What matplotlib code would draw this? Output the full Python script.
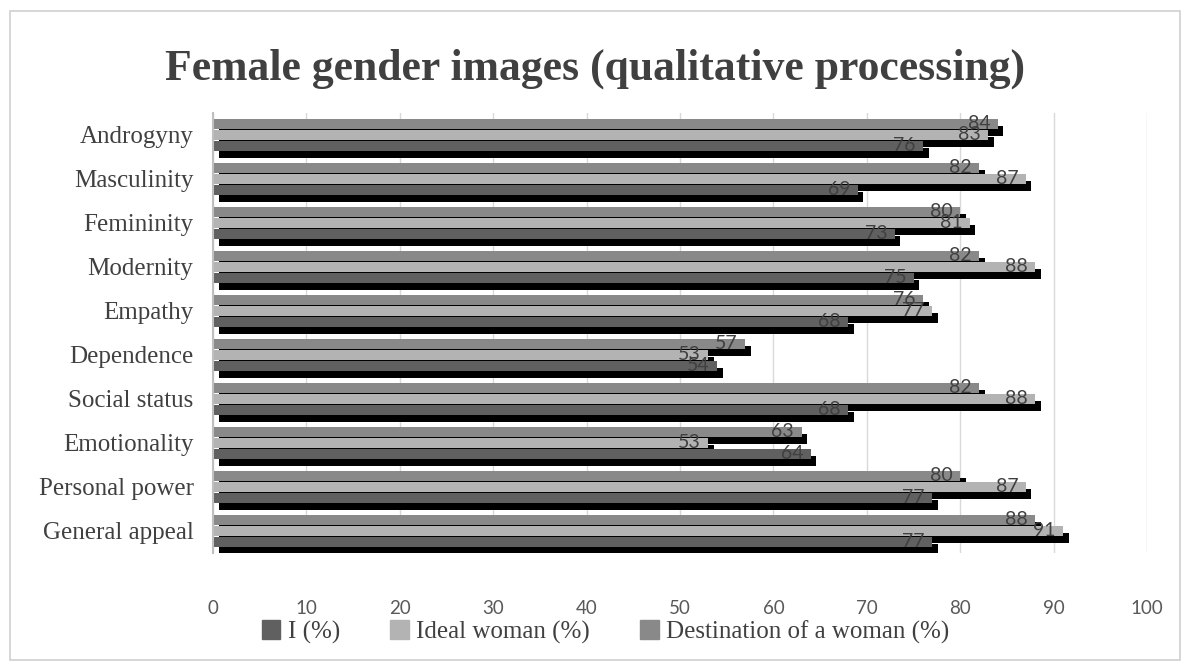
import matplotlib
matplotlib.use("Agg")
import matplotlib.pyplot as plt
import matplotlib.patheffects as pe
from matplotlib.patches import Rectangle
import numpy as np

categories = ["Androgyny", "Masculinity", "Femininity", "Modernity", "Empathy",
              "Dependence", "Social status", "Emotionality", "Personal power",
              "General appeal"]
i_pct = [76, 69, 73, 75, 68, 54, 68, 64, 77, 77]
ideal_pct = [83, 87, 81, 88, 77, 53, 88, 53, 87, 91]
dest_pct = [84, 82, 80, 82, 76, 57, 82, 63, 80, 88]
xticks = [0, 10, 20, 30, 40, 50, 60, 70, 80, 90, 100]

series = [
    ("I (%)", i_pct, "#606060", -0.25),
    ("Ideal woman (%)", ideal_pct, "#b3b3b3", 0.0),
    ("Destination of a woman (%)", dest_pct, "#898989", 0.25),
]

serif = "Liberation Serif"
sans = "Lato"

fig = plt.figure(figsize=(11.9, 6.71), dpi=100)
ax = fig.add_axes([0.179, 0.176, 0.785, 0.656])

# outer frame of the chart area
fig.patches.append(Rectangle((10 / 1190, 11 / 671), 1170 / 1190, 649 / 671,
                             transform=fig.transFigure, fill=False,
                             edgecolor="#d0d0d0", linewidth=1.2))

y = np.arange(len(categories))[::-1]
bar_h = 0.225
shadow = [pe.SimplePatchShadow(offset=(4, -5), shadow_rgbFace="black", alpha=1.0),
          pe.Normal()]

# draw top series first so lower bars sit over the shadows above them
handles = {}
for z, (name, vals, color, off) in enumerate(reversed(series)):
    bars = ax.barh(y + off, vals, height=bar_h, color=color, zorder=3 + z)
    for b in bars:
        b.set_path_effects(shadow)
    handles[name] = Rectangle((0, 0), 1, 1, color=color)
    for yy, v in zip(y + off, vals):
        ax.text(v - 0.8, yy, str(v), ha="right", va="center", fontsize=14,
                family=sans, color="#404040", zorder=10)

ax.set_xlim(0, 100)
ax.set_ylim(-0.5, len(categories) - 0.5)
ax.set_xticks(xticks)
ax.set_xticklabels([str(t) for t in xticks], family=sans, fontsize=13.5,
                   color="#595959")
ax.set_yticks(y)
ax.set_yticklabels(categories, family=serif, fontsize=18, color="#404040")
ax.tick_params(axis="x", length=0, pad=34)
ax.tick_params(axis="y", length=0, pad=14)
ax.grid(axis="x", color="#d9d9d9", linewidth=1.0, zorder=0)
ax.set_axisbelow(True)
for s in ["top", "right", "bottom"]:
    ax.spines[s].set_visible(False)
ax.spines["left"].set_color("#bfbfbf")
ax.spines["left"].set_linewidth(1.5)
ax.spines["left"].set_zorder(20)

fig.text(0.5, 0.897, "Female gender images (qualitative processing)",
         ha="center", va="center", family=serif, fontsize=31.5,
         fontweight="bold", color="#404040")

names = [s[0] for s in series]
fig.legend([handles[n] for n in names], names, loc="center",
           bbox_to_anchor=(0.509, 0.058), ncol=3, frameon=False,
           prop={"family": serif, "size": 18}, handlelength=0.75,
           handleheight=0.75, handletextpad=0.3, columnspacing=2.0,
           labelcolor="#404040")

fig.savefig("out.png", dpi=100)
